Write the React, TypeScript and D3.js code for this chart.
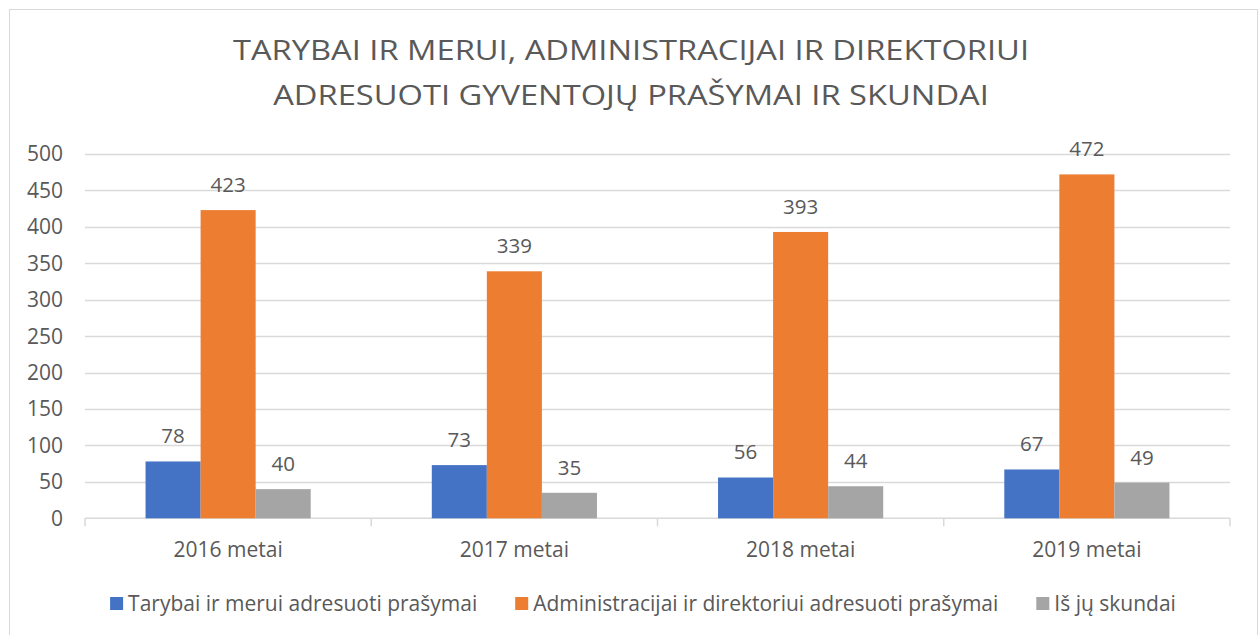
import React, { useMemo } from "react";
import * as d3 from "d3";

const categories = ["2016 metai", "2017 metai", "2018 metai", "2019 metai"];
const seriesNames = [
  "Tarybai ir merui adresuoti prašymai",
  "Administracijai ir direktoriui adresuoti prašymai",
  "Iš jų skundai",
];
const tarybaiValues = [78, 73, 56, 67];
const administracijaiValues = [423, 339, 393, 472];
const skundaiValues = [40, 35, 44, 49];
const yTicks = [0, 50, 100, 150, 200, 250, 300, 350, 400, 450, 500];
const titleLines = [
  "TARYBAI IR MERUI, ADMINISTRACIJAI IR DIREKTORIUI",
  "ADRESUOTI GYVENTOJŲ PRAŠYMAI IR SKUNDAI",
];
const colors = ["#4472C4", "#ED7D31", "#A5A5A5"];

const W = 1259;
const H = 635;
const FONT = "'Open Sans', 'Noto Sans', sans-serif";
const TEXT = "#595959";

function measure(text: string, size: number) {
  const c = document.createElement("canvas");
  const ctx = c.getContext("2d")!;
  ctx.font = `${size}px 'Open Sans'`;
  return ctx.measureText(text).width;
}

export default function App() {
  const series = [tarybaiValues, administracijaiValues, skundaiValues];
  const plot = { left: 85, right: 1230, top: 154, bottom: 518.3 };
  const y = d3.scaleLinear().domain([0, 500]).range([plot.bottom, plot.top]);
  const x0 = d3.scaleBand<string>().domain(categories).range([plot.left, plot.right]).padding(0);
  const groupW = x0.bandwidth() * 0.577;
  const x1 = d3
    .scaleBand<number>()
    .domain(d3.range(seriesNames.length))
    .range([(x0.bandwidth() - groupW) / 2, (x0.bandwidth() + groupW) / 2])
    .padding(0);

  const legendSize = 21;
  const sq = 13;
  const legend = useMemo(() => {
    const gapAfterSq = 5;
    const gapBetween = 38;
    const widths = seriesNames.map((s) => measure(s, legendSize));
    const total =
      widths.reduce((a, b) => a + b, 0) + seriesNames.length * (sq + gapAfterSq) + gapBetween * (seriesNames.length - 1);
    let cx = 643 - total / 2;
    return seriesNames.map((s, i) => {
      const item = { x: cx, name: s, color: colors[i], tx: cx + sq + gapAfterSq };
      cx += sq + gapAfterSq + widths[i] + gapBetween;
      return item;
    });
  }, []);

  return (
    <svg
      width={W}
      height={H}
      style={{ position: "absolute", left: 0, top: 0, background: "#fff" }}
      fontFamily={FONT}
    >
      <rect x={0} y={0} width={W} height={H} fill="#fff" />
      <rect x={9.5} y={9.5} width={1248} height={640} fill="#fff" stroke="#D9D9D9" strokeWidth={1} />
      {titleLines.map((t, i) => (
        <text
          key={i}
          transform={`translate(631,${60 + i * 45}) scale(1.21,1)`}
          textAnchor="middle"
          fontSize={27}
          fill={TEXT}
        >
          {t}
        </text>
      ))}
      {yTicks.map((t) => (
        <g key={t}>
          {t > 0 && (
            <line x1={plot.left} x2={plot.right} y1={Math.round(y(t)) + 0.5} y2={Math.round(y(t)) + 0.5} stroke="#D9D9D9" strokeWidth={1.5} />
          )}
          <text x={63} y={y(t)} dy="0.35em" textAnchor="end" fontSize={21} fill={TEXT}>
            {t}
          </text>
        </g>
      ))}
      <line x1={plot.left} x2={plot.right} y1={plot.bottom} y2={plot.bottom} stroke="#D9D9D9" strokeWidth={1.5} />
      {[...categories.map((c) => x0(c)!), plot.right].map((xx, i) => (
        <line key={i} x1={xx} x2={xx} y1={plot.bottom} y2={plot.bottom + 8} stroke="#D9D9D9" strokeWidth={1.5} />
      ))}
      {categories.map((c, ci) => (
        <g key={c} transform={`translate(${x0(c)},0)`}>
          {series.map((vals, si) => (
            <g key={si}>
              <rect
                x={x1(si)!}
                y={y(vals[ci])}
                width={x1.bandwidth()}
                height={y(0) - y(vals[ci])}
                fill={colors[si]}
              />
              <text
                x={x1(si)! + x1.bandwidth() / 2}
                y={y(vals[ci]) - 18}
                textAnchor="middle"
                fontSize={20.5}
                fill={TEXT}
              >
                {vals[ci]}
              </text>
            </g>
          ))}
          <text x={x0.bandwidth() / 2} y={556.5} textAnchor="middle" fontSize={21} fill={TEXT}>
            {c}
          </text>
        </g>
      ))}
      {legend.map((l) => (
        <g key={l.name}>
          <rect x={l.x} y={597} width={sq} height={sq} fill={l.color} />
          <text x={l.tx} y={611} fontSize={legendSize} fill={TEXT}>
            {l.name}
          </text>
        </g>
      ))}
    </svg>
  );
}
